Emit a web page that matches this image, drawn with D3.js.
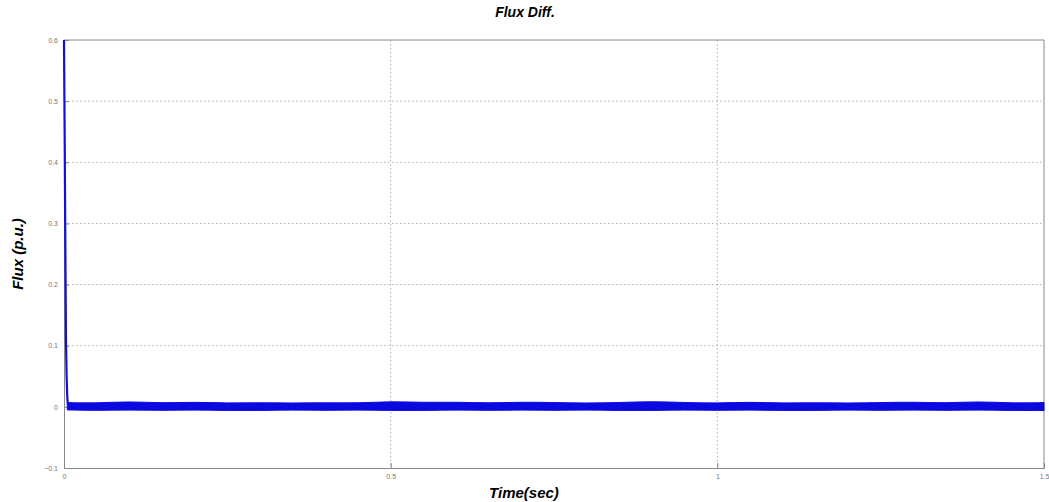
<!DOCTYPE html>
<html>
<head>
<meta charset="utf-8">
<script src="https://cdn.jsdelivr.net/npm/d3@7"></script>
<style>
  body { margin: 0; background: #fff; }
  svg text { font-family: "Liberation Sans", Arial, sans-serif; }
</style>
</head>
<body>
<div id="chart"></div>
<script>
// tick values
const xTicks = [0, 0.5, 1, 1.5];
const yTicks = [-0.1, 0, 0.1, 0.2, 0.3, 0.4, 0.5, 0.6];

// initial transient (time, flux)
const spikeT = [0, 0.0005, 0.001, 0.0015, 0.002, 0.0025, 0.003, 0.004, 0.005, 0.006];
const spikeV = [0.60, 0.52, 0.45, 0.36, 0.27, 0.19, 0.11, 0.05, 0.015, 0.004];

// steady ripple band: time, upper and lower envelope
const bandT = [0.005, 0.05, 0.1, 0.15, 0.2, 0.25, 0.3, 0.35, 0.4, 0.45, 0.5, 0.55, 0.6, 0.65, 0.7,
  0.75, 0.8, 0.85, 0.9, 0.95, 1.0, 1.05, 1.1, 1.15, 1.2, 1.25, 1.3, 1.35, 1.4, 1.45, 1.5];
const bandHi = [0.007, 0.006, 0.009, 0.006, 0.008, 0.006, 0.007, 0.006, 0.007, 0.006, 0.009, 0.007, 0.008, 0.006, 0.008,
  0.007, 0.006, 0.007, 0.009, 0.007, 0.006, 0.008, 0.006, 0.007, 0.006, 0.007, 0.008, 0.006, 0.009, 0.006, 0.007];
const bandLo = [-0.005, -0.006, -0.005, -0.006, -0.005, -0.006, -0.006, -0.005, -0.006, -0.005, -0.006, -0.006, -0.005, -0.006, -0.005,
  -0.006, -0.005, -0.006, -0.006, -0.005, -0.006, -0.005, -0.006, -0.006, -0.005, -0.006, -0.005, -0.006, -0.005, -0.006, -0.006];

const width = 1049, height = 502;
const m = { left: 64, right: 5, top: 40, bottom: 34 };

const svg = d3.select("#chart").append("svg")
  .attr("width", width)
  .attr("height", height);

const x = d3.scaleLinear().domain([0, 1.5]).range([m.left, width - m.right]);
const y = d3.scaleLinear().domain([-0.1, 0.6]).range([height - m.bottom, m.top]);

// grid
svg.append("g").selectAll("line.gx")
  .data(xTicks.slice(1, -1)).enter().append("line")
  .attr("x1", d => x(d)).attr("x2", d => x(d))
  .attr("y1", y(0.6)).attr("y2", y(-0.1))
  .attr("stroke", "#999").attr("stroke-width", 0.8).attr("stroke-dasharray", "1.5,2.5");
svg.append("g").selectAll("line.gy")
  .data(yTicks.slice(1, -1)).enter().append("line")
  .attr("y1", d => y(d)).attr("y2", d => y(d))
  .attr("x1", x(0)).attr("x2", x(1.5))
  .attr("stroke", "#999").attr("stroke-width", 0.8).attr("stroke-dasharray", "1.5,2.5");

// axes
const fmt = d => d3.format("")(Math.round(d * 10) / 10);
const xAxis = svg.append("g").attr("transform", `translate(0,${y(-0.1)})`)
  .call(d3.axisBottom(x).tickValues(xTicks).tickSize(-5).tickPadding(6).tickFormat(fmt));
const yAxis = svg.append("g").attr("transform", `translate(${x(0)},0)`)
  .call(d3.axisLeft(y).tickValues(yTicks).tickSize(-5).tickPadding(6).tickFormat(fmt));
[xAxis, yAxis].forEach(a => {
  a.select(".domain").attr("stroke", "#888");
  a.selectAll(".tick line").attr("stroke", "#888");
  a.selectAll("text").attr("fill", "#777").attr("font-size", 7);
});
// top and right frame
svg.append("line").attr("x1", x(0)).attr("x2", x(1.5)).attr("y1", y(0.6)).attr("y2", y(0.6)).attr("stroke", "#888");
svg.append("line").attr("x1", x(1.5)).attr("x2", x(1.5)).attr("y1", y(0.6)).attr("y2", y(-0.1)).attr("stroke", "#888");

// ripple band
const area = d3.area()
  .x((d, i) => x(bandT[i]))
  .y0((d, i) => y(bandLo[i]))
  .y1((d, i) => y(bandHi[i]))
  .curve(d3.curveBasis);
svg.append("path").datum(bandT)
  .attr("d", area)
  .attr("fill", "#0a0ae0")
  .attr("stroke", "#0a0ae0").attr("stroke-width", 1);

// transient spike
const line = d3.line().x((d, i) => x(spikeT[i])).y((d, i) => y(spikeV[i]));
svg.append("path").datum(spikeT)
  .attr("d", line)
  .attr("fill", "none")
  .attr("stroke", "#1010d8").attr("stroke-width", 2.2);

// labels
svg.append("text").attr("x", 525).attr("y", 17).attr("text-anchor", "middle")
  .attr("font-size", 14).attr("font-weight", "bold").attr("font-style", "italic").text("Flux Diff.");
svg.append("text").attr("x", 524).attr("y", 498).attr("text-anchor", "middle")
  .attr("font-size", 15).attr("font-weight", "bold").attr("font-style", "italic").text("Time(sec)");
svg.append("text").attr("transform", "translate(23,254) rotate(-90)").attr("text-anchor", "middle")
  .attr("font-size", 15).attr("font-weight", "bold").attr("font-style", "italic").text("Flux (p.u.)");
</script>
</body>
</html>
